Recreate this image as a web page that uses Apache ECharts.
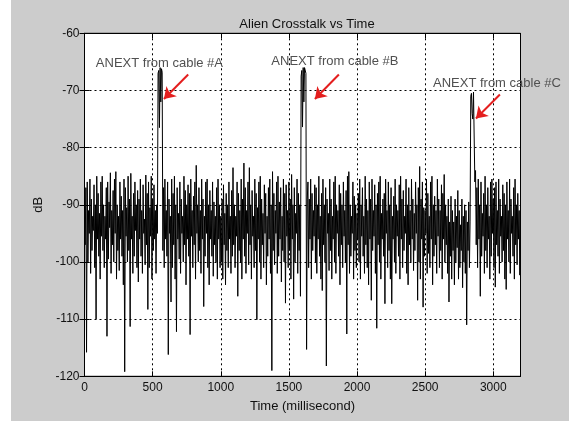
<!DOCTYPE html>
<html>
<head>
<meta charset="utf-8">
<script src="https://cdn.jsdelivr.net/npm/echarts@6/dist/echarts.min.js"></script>
<style>
html,body{margin:0;padding:0;background:#fff;}
#c{width:569px;height:421px;}
</style>
</head>
<body>
<div id="c"></div>
<script>
// Trace sampled every 5 ms. Samples on whole 10 ms (0,10,...,3200), in dB:
const onTen_0000 = [
 -90,-87,-86,-91,-85.5,-89,-92,-86.5,-90,-85,
 -88,-91.5,-86,-85,-90,-92,-87,-86,-89.5,-84.4,
 -91,-87.5,-85.5,-84.2,-90,-92,-86,-88.5,-91,-85.5,
 -87,-90.5,-85,-89,-84.5,-92,-88,-86,-90,-87.5,
 -89,-85.5,-91,-86.5,-92.5,-84.8,-88,-86,-90.5,-85,
 -89,-86.5,-91,-90,-67,-76.5,-72,-66.8,-87,-85.5,
 -91,-86,-89,-92,-85.5,-88,-85,-90,-87,-91.5,
 -86,-89,-92,-85,-87.5,-90,-86.5,-88,-85.5,-91,
 -88.5,-86,-83.1,-90,-87,-91,-85.5,-89,-92,-86,
 -85.5,-90,-87.5,-91,-86,-89.5,-92,-87,-85.5,-90,
 -92,-89,-86.5,-91.5,-88,-90,-86,-92,-87.5,-83.5,
 -90,-92,-86,-88,-91,-85.5,-89,-82.7,-87,-91,
 -86,-83.5,-90,-87.5,-92,-85.5,-88,-90.5,-86,-85,
 -89,-91.5,-86.5,-88,-92,-87,-85.5,-90,-84.2,-88,
 -91,-86,-85,-89.5,-87,-92,-85.5,-88,-86.5,-91,
 -86,-89,-84.7,-90,-87,-91.5,-85.5,-88,-90,-67.5
];
const onTen_1600 = [
 -76.4,-72,-66.3,-115.3,-86,-89,-85.5,-88,-91,-86.5,
 -87,-90,-85,-92,-88,-85.5,-90,-87,-89,-91.5,
 -85.5,-89,-92,-86,-85,-90,-91,-86.5,-88,-90,
 -86,-91,-87.5,-85,-84.2,-90,-92,-86,-88.5,-90,
 -91.5,-88,-85.5,-90,-87,-92,-85,-89,-91,-86,
 -89,-85.5,-91,-86.5,-90,-88,-86,-85,-91.5,-89,
 -88,-85.5,-91,-86,-90,-87,-92,-88.5,-85.5,-90,
 -91,-86.5,-85,-89,-87.5,-92,-85.5,-90,-87,-91,
 -85.5,-89,-91.5,-86,-90,-87,-83.3,-89,-86,-90.5,
 -91,-85.5,-88,-92,-86,-85,-90,-88.5,-91,-85.5,
 -89,-91,-86.5,-88,-84.7,-90,-92,-89,-93,-88.5,
 -91,-93,-89,-92,-87.5,-91,-93.5,-89,-92,-90,
 -91,-93,-89.5,-93,-70.5,-75,-70.2,-84,-87,-85.5,
 -90,-86,-91.5,-88,-85,-90,-87,-92,-86,-85.5,
 -89,-87,-86,-91,-85.5,-89,-92,-86.5,-88,-90,
 -86,-91,-85.5,-89,-92,-87,-85.5,-90,-88,-91,
 -90
];
// Samples in between, at 5,15,...,3195 ms, in dB:
const onFive_0000 = [
 -97,-115.8,-100,-95,-102,-98,-94.5,-101,-110,-96,
 -99,-103,-95.5,-98,-101,-96,-113,-99.5,-94,-102,
 -97,-100,-95,-103,-98,-101.5,-96,-99,-104,-119.2,
 -95.5,-100,-98,-111.3,-96,-102,-99,-94.5,-101,-103.5,
 -96,-99,-102,-95,-100.5,-97,-108.3,-101,-95.5,-103,
 -98,-96,-102,-95,-66.5,-66,-66.2,-98,-101,-96,
 -99,-116.2,-95,-107,-101,-97,-103,-112.2,-96,-99.5,
 -102,-95,-100,-97,-104,-96,-99,-112.7,-95.5,-101,
 -97,-103,-95,-100,-98,-102,-96,-107.8,-99,-95,
 -101,-104,-96,-99,-102.5,-97,-100,-103,-96,-101,
 -100,-103,-97,-104,-98,-101,-96,-102,-99,-97,
 -101,-95.5,-106,-98,-100,-103,-96,-99,-102,-95,
 -100.5,-97,-103,-95.5,-101,-98,-110.1,-96,-100,-103,
 -97,-101,-95,-104,-99,-96,-102,-119,-98,-100.5,
 -95,-102,-99,-96,-103.5,-98,-100,-107.2,-95.5,-101,
 -98,-103,-96,-106.5,-100,-95,-102,-98,-106,-66.5
];
const onFive_1600 = [
 -66,-66,-67,-89,-101,-96,-103,-98,-95.5,-100,
 -102,-96,-99,-103,-105,-97,-100,-118.2,-95,-101.5,
 -98,-103,-96,-100,-102,-95,-99,-104,-97,-101,
 -95.5,-100,-112.6,-97,-102,-99,-95,-103,-98,-101,
 -96,-100,-103,-95.5,-99,-102,-97,-101,-104,-96,
 -106.7,-98,-95.5,-102,-111.6,-97,-100,-103,-96,-99,
 -107.3,-95,-101,-98,-103,-107.3,-96,-100,-102,-95.5,
 -99,-103,-96,-101,-98,-95,-102,-104,-97,-100,
 -96,-101.5,-98,-95,-106.7,-100,-103,-96,-107.9,-99,
 -95,-102,-98.5,-101,-96,-104,-99,-97,-102,-95.5,
 -101,-98,-103,-96,-100,-97,-102,-107,-99,-103,
 -98,-104,-100,-97.5,-103,-101,-98,-104.5,-100,-102,
 -111,-98,-101,-71,-74,-70.3,-86,-97,-101,-96,
 -106,-99,-95.5,-102,-98,-101,-96,-103,-99,-95,
 -101,-104.4,-97,-99,-102,-95.5,-100,-98,-103,-104.8,
 -96,-100,-102,-95,-99,-103,-97,-100.5,-96,-102.3
];
const stepMs = 10;
const onTen = onTen_0000.concat(onTen_1600);
const onFive = onFive_0000.concat(onFive_1600);

// Axis ticks
const xTicks = {min: 0, max: 3200, interval: 500};
const yTicks = {min: -120, max: -60, interval: 10};

// Annotations: label, label anchor (ms, dB), arrow start, arrow tip
const annLabels = ['ANEXT from cable #A', 'ANEXT from cable #B', 'ANEXT from cable #C'];
const annTextAt = [[550, -65.2], [1838, -65.0], [3027, -68.7]];
const annArrowFrom = [[761, -67.2], [1867, -67.2], [3049, -70.7]];
const annArrowTo = [[583, -71.5], [1691, -71.5], [2873, -74.9]];

const FONT = 'Liberation Sans, Arial, Helvetica, sans-serif';
const data = [];
onTen.forEach((v, i) => {
  data.push([i * stepMs, v]);
  if (i < onFive.length) data.push([i * stepMs + stepMs / 2, onFive[i]]);
});

const chart = echarts.init(document.getElementById('c'), null, {renderer: 'canvas'});
const gridLine = {show: true, lineStyle: {color: '#000', width: 1, type: [2, 3]}};
const tickStyle = {show: true, inside: true, length: 5, lineStyle: {color: '#000', width: 1}};
const plain = v => String(v);

chart.setOption({
  animation: false,
  backgroundColor: '#cccccc',
  graphic: [{type: 'rect', left: 0, top: 0, shape: {width: 11, height: 421}, style: {fill: '#fff'}, silent: true}],
  title: {
    text: 'Alien Crosstalk vs Time', left: 302, top: 13, textAlign: 'center',
    textStyle: {fontFamily: FONT, fontSize: 13, fontWeight: 'normal', color: '#111'}
  },
  grid: {left: 84.5, right: 48.5, top: 33.3, bottom: 44.7, show: true, backgroundColor: '#fff', borderColor: '#000', borderWidth: 1},
  xAxis: [{
    type: 'value', min: xTicks.min, max: xTicks.max, interval: xTicks.interval, position: 'bottom',
    axisLine: {show: true, lineStyle: {color: '#000'}}, axisTick: tickStyle, splitLine: gridLine,
    axisLabel: {fontFamily: FONT, fontSize: 12, color: '#111', margin: 5, showMaxLabel: false, formatter: plain},
    name: 'Time (millisecond)', nameLocation: 'middle', nameGap: 24,
    nameTextStyle: {fontFamily: FONT, fontSize: 13, color: '#111'}
  }, {
    type: 'value', min: xTicks.min, max: xTicks.max, interval: xTicks.interval, position: 'top',
    axisLine: {show: true, lineStyle: {color: '#000'}}, axisTick: tickStyle, splitLine: {show: false}, axisLabel: {show: false}
  }],
  yAxis: [{
    type: 'value', min: yTicks.min, max: yTicks.max, interval: yTicks.interval, position: 'left',
    axisLine: {show: true, lineStyle: {color: '#000'}}, axisTick: tickStyle, splitLine: gridLine,
    axisLabel: {fontFamily: FONT, fontSize: 12, color: '#111', margin: 5, formatter: plain},
    name: 'dB', nameLocation: 'middle', nameGap: 40,
    nameTextStyle: {fontFamily: FONT, fontSize: 13, color: '#111'}
  }, {
    type: 'value', min: yTicks.min, max: yTicks.max, interval: yTicks.interval, position: 'right',
    axisLine: {show: true, lineStyle: {color: '#000'}}, axisTick: tickStyle, splitLine: {show: false}, axisLabel: {show: false}
  }],
  series: [{
    type: 'line', data: data, xAxisIndex: 0, yAxisIndex: 0,
    showSymbol: false, symbol: 'none', silent: true,
    lineStyle: {color: '#000', width: 1},
    markLine: {
      silent: true, symbol: ['none', 'arrow'], symbolSize: 11,
      label: {show: false},
      lineStyle: {color: '#e41e1e', width: 2, type: 'solid'},
      data: annArrowFrom.map((p, i) => [{coord: p}, {coord: annArrowTo[i]}])
    },
    markPoint: {
      silent: true, symbol: 'rect', symbolSize: 1, itemStyle: {color: 'rgba(0,0,0,0)'},
      data: annTextAt.map((p, i) => ({
        coord: p,
        label: {show: true, position: 'inside', formatter: annLabels[i], fontFamily: FONT, fontSize: 13, color: '#505050'}
      }))
    }
  }]
});
</script>
</body>
</html>
